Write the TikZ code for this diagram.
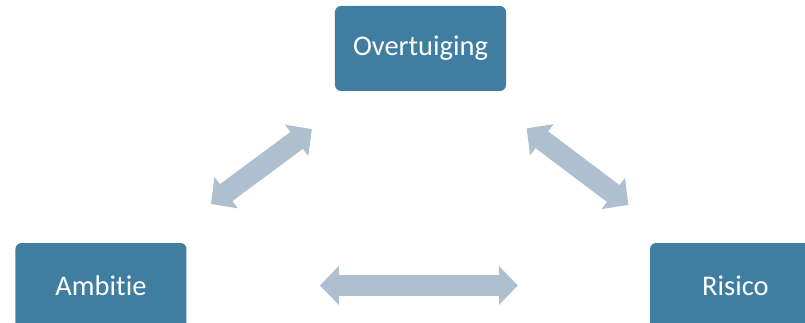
\documentclass[tikz,border=0pt]{standalone}
\usepackage{fontspec}
\setmainfont[RawFeature=-liga]{Carlito}
\usepackage{tikz}
\usetikzlibrary{arrows.meta,calc}
\definecolor{boxblue}{RGB}{64,126,161}
\definecolor{linkgray}{RGB}{174,192,208}

\begin{document}
\begin{tikzpicture}[
  box/.style={rectangle, rounded corners=6pt, fill=boxblue, text=white,
    minimum width=171pt, minimum height=85pt, font=\fontsize{28.5pt}{33pt}\selectfont},
  link/.style={{Triangle[length=19pt,width=38pt]}-{Triangle[length=19pt,width=38pt]},
    line width=21pt, linkgray}]
\useasboundingbox (-420.5pt,48.5pt) rectangle (384.5pt,-274.5pt);
\clip (-420.5pt,48.5pt) rectangle (384.5pt,-274.5pt);
\node [box] (ovt) {Overtuiging};
\node [box, xshift=-319.5pt, yshift=-237pt] (amb) {Ambitie};
\node [box, xshift=+315pt, yshift=-237pt] (ris) {Risico};
\draw [link] ($(ovt)!0.34!(amb)$) -- ($(ovt)!0.656!(amb)$);
\draw [link] ($(ovt)!0.337!(ris)$) -- ($(ovt)!0.66!(ris)$);
\draw [link] ($(amb)!0.345!(ris)$) -- ($(amb)!0.657!(ris)$);
\end{tikzpicture}
\end{document}
